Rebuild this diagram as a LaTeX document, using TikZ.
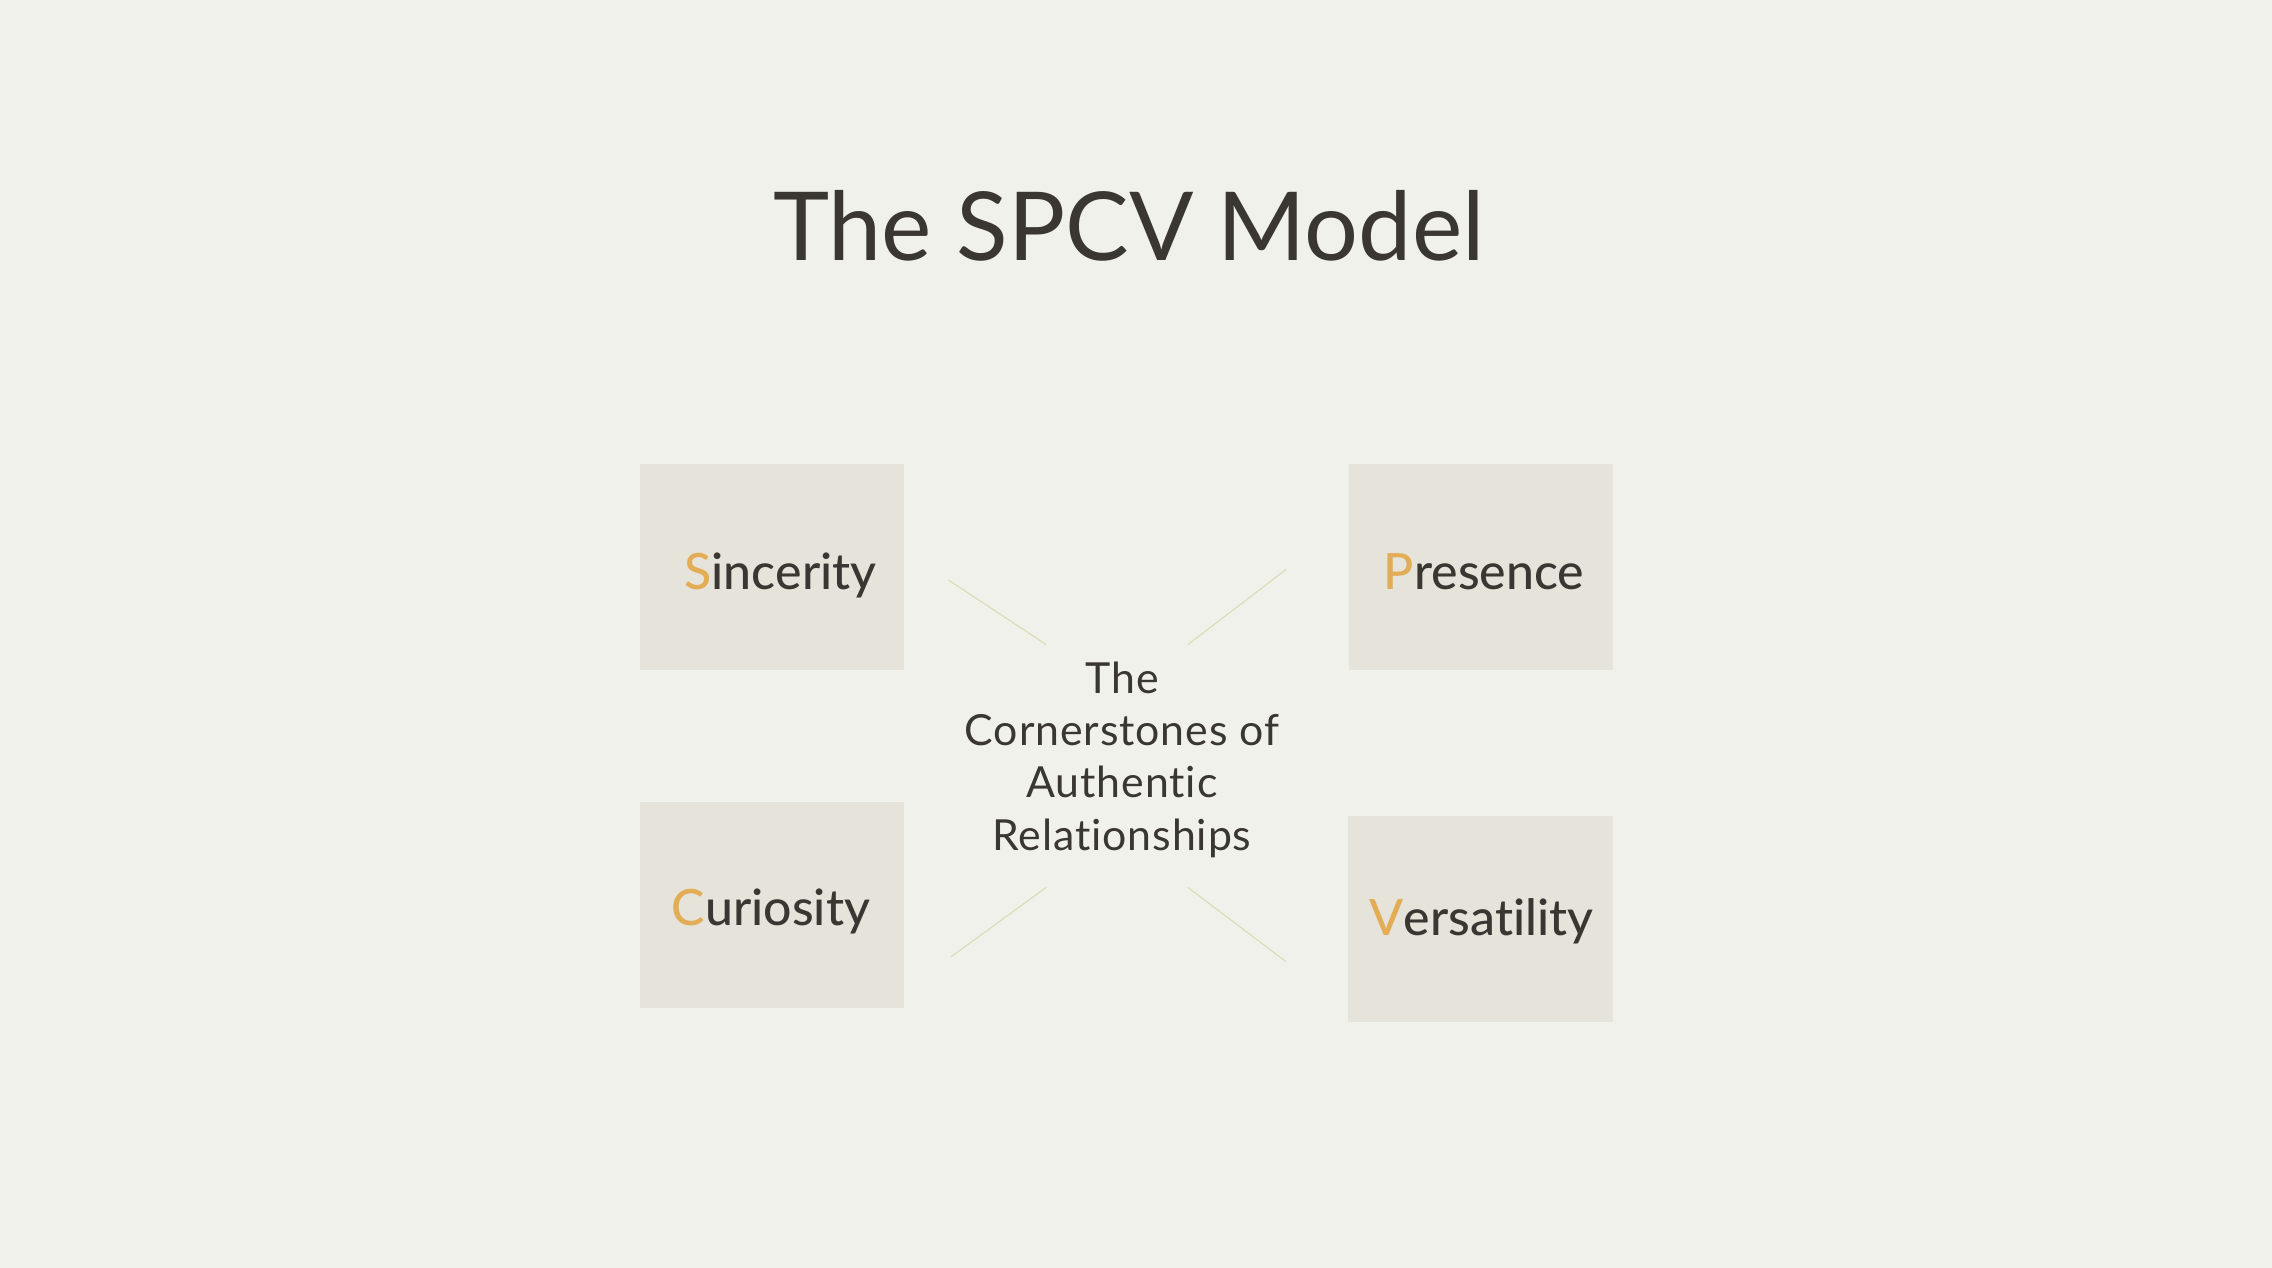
\documentclass[tikz,border=0pt]{standalone}
\usepackage{fontspec}
\setmainfont{Lato}[Ligatures={NoCommon}]
\newfontfamily\latocenter{Lato}[Ligatures={NoCommon}, LetterSpace=2.1]
\newfontfamily\latomed{Lato Medium}[Ligatures={NoCommon}]
\definecolor{bgc}{HTML}{F1F1EC}
\definecolor{boxc}{HTML}{E6E3DB}
\definecolor{accent}{HTML}{E2AD55}
\definecolor{ink}{HTML}{3A3632}
\definecolor{linec}{HTML}{DCDDB8}
\tikzset{
  card/.style={fill=boxc, draw=none},
  cardlabel/.style={anchor=base, text=ink, font=\latomed\fontsize{25}{30}\selectfont, inner sep=0pt},
  spoke/.style={draw=linec, line width=0.6pt},
  centertext/.style={anchor=base, text=ink, font=\latocenter\fontsize{21.4}{26}\selectfont, inner sep=0pt}
}
\newcommand{\ac}[1]{\textcolor{accent}{#1}}
\begin{document}
\begin{tikzpicture}[x=0.5pt,y=-0.5pt]
\fill[bgc] (0,0) rectangle (2272,1268);
\useasboundingbox (0,0) rectangle (2272,1268);
% title
\node[anchor=base, text=ink, inner sep=0pt, font=\fontsize{47.6}{58}\selectfont] (title) at (1129,260.7) {The SPCV Model};
% cards
\path[card] (640,464) rectangle (904,669.5);
\path[card] (1349,464) rectangle (1613,669.5);
\path[card] (640,802) rectangle (904,1007.5);
\path[card] (1348,816) rectangle (1613,1021.5);
\node[cardlabel] (sinc) at (780.5,589) {\ac{S}incerity};
\node[cardlabel] (pres) at (1484,589) {\ac{P}resence};
\node[cardlabel] (curi) at (771,925.3) {\ac{C}uriosity};
\node[cardlabel] (vers) at (1481.6,935.2) {\ac{V}ersatility};
% center text
\node[centertext] (t1) at (1122,693.3) {The};
\node[centertext] (t2) at (1122,745.5) {Cornerstones of};
\node[centertext] (t3) at (1122,797.8) {Authentic};
\node[centertext] (t4) at (1122,850.2) {Relationships};
% spokes
\coordinate (a1) at (948.6,580.1); \coordinate (a2) at (1046.2,644.6);
\coordinate (b1) at (1286,569.5); \coordinate (b2) at (1187.9,644.6);
\coordinate (c1) at (1046.2,887.4); \coordinate (c2) at (950.8,957);
\coordinate (d1) at (1187.9,887.4); \coordinate (d2) at (1286,961.7);
\draw[spoke] (a1) -- (a2);
\draw[spoke] (b1) -- (b2);
\draw[spoke] (c1) -- (c2);
\draw[spoke] (d1) -- (d2);
\end{tikzpicture}
\end{document}
